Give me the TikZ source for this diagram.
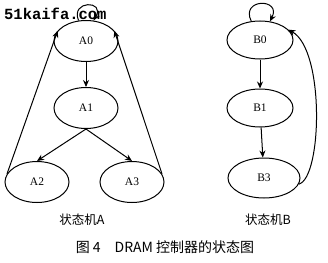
\documentclass[tikz,border=0pt]{standalone}
\usepackage{fontspec}
\setmainfont{Liberation Serif}
\newfontfamily\cjk{Noto Sans CJK SC}
\newfontfamily\wm{Liberation Mono}
\usetikzlibrary{arrows.meta,shapes.geometric}
\begin{document}
\begin{tikzpicture}[x=1pt,y=-1pt,
  st/.style={draw,line width=1pt,ellipse,minimum width=64pt,minimum height=41pt,inner sep=0pt,font=\fontsize{11.5}{13}\selectfont},
  tr/.style={line width=1pt,-{Stealth[length=7pt,width=6pt]}}]
\useasboundingbox (0,0) rectangle (328,262);
\node[st] (A0) at (86,41) {A0};
\node[st] (A1) at (86,108) {A1};
\node[st] (A2) at (37,182) {A2};
\node[st] (A3) at (132,182) {A3};
\node[st,minimum width=66pt,minimum height=38pt] (B0) at (260,40) {B0};
\node[st,minimum width=66pt,minimum height=38pt] (B1) at (260,108) {B1};
\node[st,minimum width=72pt,minimum height=40pt] (B3) at (264,178) {B3};
\draw[tr] (A0) -- (A1);
\draw[tr] (A1.south) -- (A2.north);
\draw[tr] (A1.south) -- (A3.north);
\draw[tr] (A2.165) -- (A0.160);
\draw[tr] (A3.15) -- (A0.20);
\draw[tr] (A0.110) .. controls (70,0) and (106,0) .. (A0.70);
\draw[tr] (B0) -- (B1);
\draw[tr] (B1) -- (B3);
\draw[tr] (B0.115) .. controls (240,-2) and (282,-2) .. (B0.62);
\draw[tr] (B3.-10) .. controls (322,178) and (325,50) .. (B0.20);
\node[font=\cjk\fontsize{12.5}{14}\selectfont] (LA) at (82,220) {状态机A};
\node[font=\cjk\fontsize{12.5}{14}\selectfont] (LB) at (268,220) {状态机B};
\node[font=\cjk\fontsize{14}{16}\selectfont] (cap) at (165,247) {图 4\quad DRAM 控制器的状态图};
\node[font=\wm\bfseries\fontsize{15.5}{17}\selectfont,anchor=west,inner sep=0pt] (wm) at (4,14) {51kaifa.com};
\end{tikzpicture}
\end{document}
